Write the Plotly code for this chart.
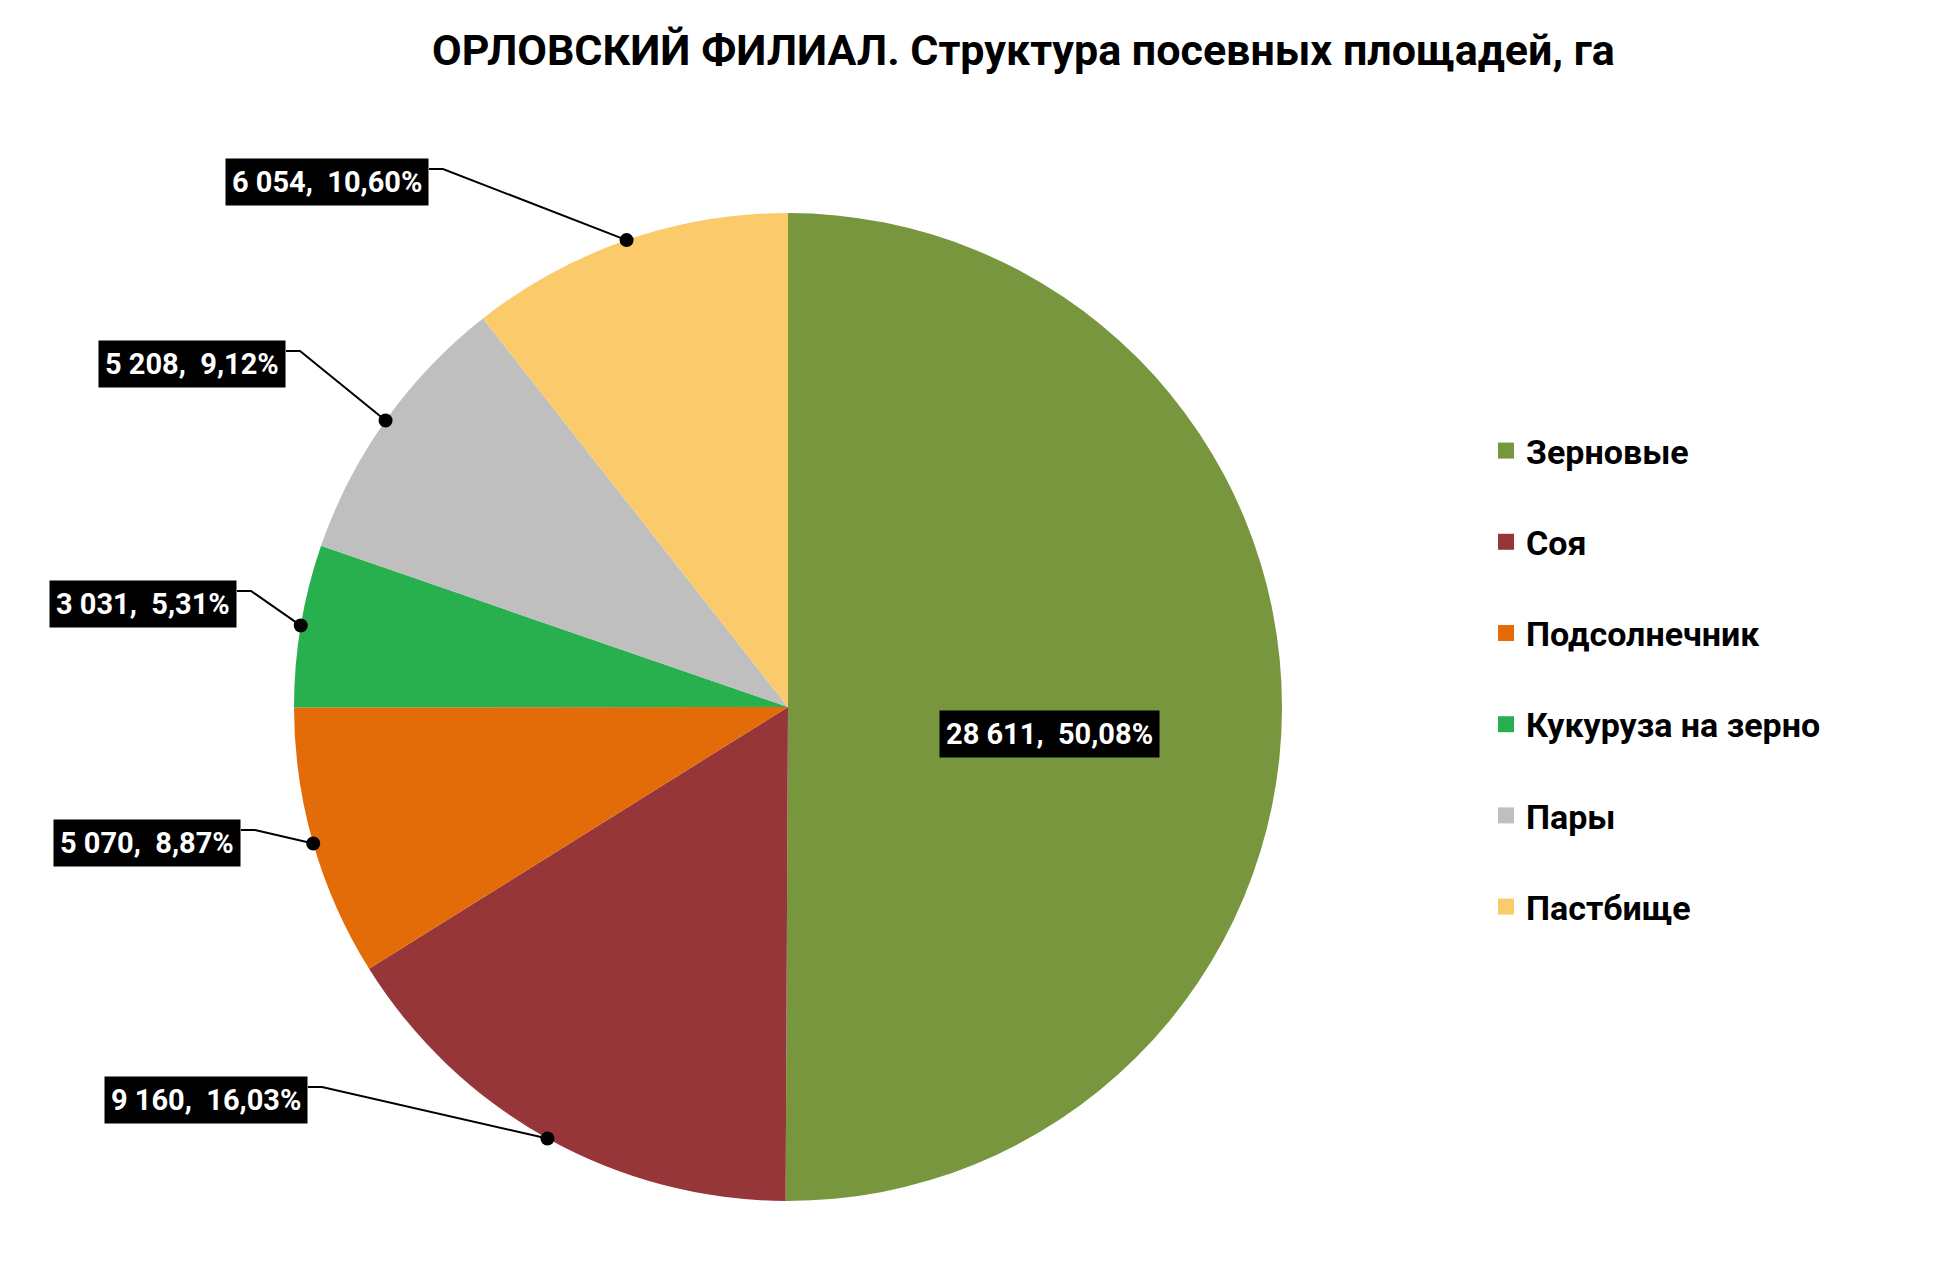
import math
import plotly.graph_objects as go

W, H = 1944, 1268

categories = ['Зерновые', 'Соя', 'Подсолнечник', 'Кукуруза на зерно', 'Пары', 'Пастбище']
areas = [28611, 9160, 5070, 3031, 5208, 6054]
colors = ['#77963E', '#963638', '#E36C09', '#28B04E', '#BFBFBF', '#FBCB6B']

# label box anchor (right edge x, centre y) in pixels
label_pos = [(1041, 726, 'center'), (300, 1092, 'right'), (233, 835, 'right'),
             (229, 596, 'right'), (278, 356, 'right'), (421, 174, 'right')]

FONT = 'Roboto'
cx, cy, r = 780, 699, 494   # pie centre / radius in px


def px(x):
    return x / W


def py(y):
    return 1 - y / H


def fmt(v, total):
    num = f'{v:,}'.replace(',', ' ')
    pct = f'{v / total * 100:.2f}'.replace('.', ',')
    return f'{num},  {pct}%'


total = sum(areas)

fig = go.Figure()
fig.add_trace(go.Pie(
    labels=categories, values=areas, sort=False, direction='clockwise', rotation=0,
    marker=dict(colors=colors, line=dict(width=0)),
    textinfo='none', hoverinfo='label+value+percent', showlegend=False,
    domain=dict(x=[px(cx - r), px(cx + r)], y=[py(cy + r), py(cy - r)]),
))

# legend entries, one group each so the gap can be set
for i, (name, col) in enumerate(zip(categories, colors)):
    fig.add_trace(go.Scatter(
        x=[None], y=[None], mode='markers', name=name, legendgroup=str(i),
        marker=dict(symbol='square', size=16, color=col),
    ))

shapes = []
annotations = []
cum = 0
for v, (lx, ly, anchor) in zip(areas, label_pos):
    mid = (cum + v / 2) / total * 2 * math.pi
    cum += v
    text = fmt(v, total)
    annotations.append(dict(
        x=px(lx), y=py(ly), xref='paper', yref='paper', text=f'<b>{text}</b>',
        showarrow=False, xanchor=anchor, yanchor='middle',
        font=dict(family=FONT, size=29, color='white'),
        bgcolor='black', borderpad=6,
    ))
    if anchor == 'center':
        continue
    dx = cx + r * math.sin(mid)
    dy = cy - r * math.cos(mid)
    sy = ly - 13
    shapes.append(dict(
        type='path', xref='paper', yref='paper',
        path=f'M {px(lx)},{py(sy)} L {px(lx + 14)},{py(sy)} L {px(dx)},{py(dy)}',
        line=dict(color='black', width=2),
    ))
    shapes.append(dict(
        type='circle', xref='paper', yref='paper',
        x0=px(dx - 7), x1=px(dx + 7), y0=py(dy + 7), y1=py(dy - 7),
        fillcolor='black', line=dict(color='black', width=0),
    ))

annotations.append(dict(
    x=px(1016), y=py(42), xref='paper', yref='paper',
    text='<b>ОРЛОВСКИЙ ФИЛИАЛ. Структура посевных площадей, га</b>',
    showarrow=False, xanchor='center', yanchor='middle',
    font=dict(family=FONT, size=43, color='black'),
))

fig.update_layout(
    width=W, height=H,
    margin=dict(l=0, r=0, t=0, b=0),
    paper_bgcolor='white', plot_bgcolor='white',
    xaxis=dict(visible=False), yaxis=dict(visible=False),
    shapes=shapes, annotations=annotations,
    legend=dict(
        x=px(1478), y=py(414), xanchor='left', yanchor='top',
        font=dict(family=FONT, size=34, color='black', weight='bold'),
        tracegroupgap=44, traceorder='grouped', bgcolor='rgba(0,0,0,0)',
    ),
    showlegend=True,
)

fig.write_html('out.html')
